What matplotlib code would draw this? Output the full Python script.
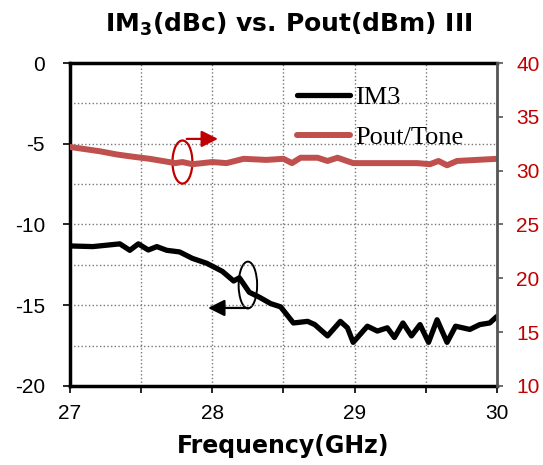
import matplotlib
matplotlib.use("Agg")
import matplotlib.pyplot as plt
from matplotlib.patches import Ellipse
from matplotlib.ticker import MultipleLocator

plt.rcParams["axes.unicode_minus"] = False

# IM3 (dBc), left axis
IM3_FREQ = [27.00, 27.16, 27.35, 27.42, 27.48, 27.55, 27.61, 27.68, 27.77, 27.86,
            27.96, 28.07, 28.15, 28.19, 28.26, 28.33, 28.41, 28.48, 28.57, 28.67,
            28.72, 28.81, 28.90, 28.95, 28.99, 29.09, 29.16, 29.23, 29.28, 29.34,
            29.40, 29.46, 29.52, 29.58, 29.65, 29.71, 29.81, 29.88, 29.95, 30.00]
IM3_DBC = [-11.33, -11.37, -11.2, -11.6, -11.2, -11.58, -11.37, -11.6, -11.7, -12.1,
           -12.4, -12.9, -13.5, -13.3, -14.2, -14.5, -14.9, -15.1, -16.1, -16.0,
           -16.2, -16.9, -16.0, -16.4, -17.3, -16.3, -16.6, -16.4, -17.0, -16.1,
           -16.9, -16.2, -17.3, -15.9, -17.3, -16.3, -16.5, -16.2, -16.1, -15.7]

# Pout per tone (dBm), right axis
POUT_FREQ = [27.00, 27.21, 27.33, 27.44, 27.56, 27.65, 27.74, 27.79, 27.86, 27.93,
             28.00, 28.10, 28.22, 28.38, 28.50, 28.56, 28.62, 28.74, 28.81, 28.88,
             28.99, 29.20, 29.44, 29.53, 29.59, 29.65, 29.72, 29.86, 30.00]
POUT_DBM = [32.2, 31.8, 31.5, 31.3, 31.1, 30.9, 30.7, 30.8, 30.6, 30.7,
            30.8, 30.7, 31.1, 31.0, 31.1, 30.7, 31.2, 31.2, 30.9, 31.2,
            30.7, 30.7, 30.7, 30.6, 30.9, 30.5, 30.9, 31.0, 31.1]

X_TICKS = [27, 28, 29, 30]
LEFT_TICKS = [0, -5, -10, -15, -20]
RIGHT_TICKS = [10, 15, 20, 25, 30, 35, 40]

DARK_RED = "#C00000"
LINE_RED = "#C0504D"

fig = plt.figure(figsize=(5.43, 4.65), dpi=100)
ax = fig.add_axes([0.129, 0.170, 0.786, 0.6945])
ax2 = ax.twinx()

# left axis: IM3
im3_line, = ax.plot(IM3_FREQ, IM3_DBC, color="black", lw=3.8,
                    solid_joinstyle="round", solid_capstyle="round", label="IM3")
ax.set_xlim(27, 30)
ax.set_ylim(-20, 0)
ax.set_xticks(X_TICKS)
ax.set_yticks(LEFT_TICKS)
ax.xaxis.set_minor_locator(MultipleLocator(0.5))
ax.yaxis.set_minor_locator(MultipleLocator(2.5))
ax.tick_params(axis="both", which="both", direction="out", width=1.2, length=5,
               labelsize=15, labelfontfamily="Liberation Sans")
ax.tick_params(axis="y", which="major", pad=13)
ax.tick_params(axis="y", which="minor", length=0)
ax.tick_params(axis="x", which="major", pad=8)
ax.grid(True, which="both", ls=":", color="#777777", lw=1)
for side in ["left", "top", "bottom"]:
    ax.spines[side].set_linewidth(2.5)
ax.spines["right"].set_visible(False)

# right axis: Pout/Tone
pout_line, = ax2.plot(POUT_FREQ, POUT_DBM, color=LINE_RED, lw=4.3,
                      solid_joinstyle="round", solid_capstyle="round", label="Pout/Tone")
ax2.set_ylim(10, 40)
ax2.set_yticks(RIGHT_TICKS)
ax2.tick_params(axis="y", labelcolor=DARK_RED, length=4, width=1.2, color="#555555", pad=10,
                labelsize=15, labelfontfamily="Liberation Sans")
ax2.spines["right"].set_linewidth(2)
ax2.spines["right"].set_color("#555555")
for side in ["left", "top", "bottom"]:
    ax2.spines[side].set_visible(False)

# annotation ellipses and arrows
ax2.add_patch(Ellipse((27.79, 30.8), 0.14, 4.0, fill=False, ec=DARK_RED, lw=1.6))
ax2.annotate("", xy=(28.04, 32.95), xytext=(27.82, 32.95),
             arrowprops=dict(arrowstyle="-|>,head_length=1.0,head_width=0.5",
                             color=DARK_RED, lw=1.6, shrinkA=0, shrinkB=0))
ax.add_patch(Ellipse((28.25, -13.75), 0.13, 2.9, fill=False, ec="black", lw=1.4))
ax.annotate("", xy=(27.97, -15.17), xytext=(28.25, -15.17),
            arrowprops=dict(arrowstyle="-|>,head_length=1.0,head_width=0.5",
                            color="black", lw=1.6, shrinkA=0, shrinkB=0))

ax.set_xlabel("Frequency(GHz)", fontsize=17, fontweight="bold", labelpad=8)

fig.legend(handles=[im3_line, pout_line], loc="upper left",
           bbox_to_anchor=(0.547, 0.815), frameon=False, borderpad=0,
           borderaxespad=0, handlelength=2.0, handletextpad=0.2, labelspacing=0.62,
           prop={"family": "Liberation Serif", "size": 19})

fig.text(0.532, 0.948, r"IM$_\mathbf{3}$(dBc) vs. Pout(dBm) III", ha="center", va="center",
         fontsize=18, fontweight="bold")

fig.savefig("out.png", dpi=100)
